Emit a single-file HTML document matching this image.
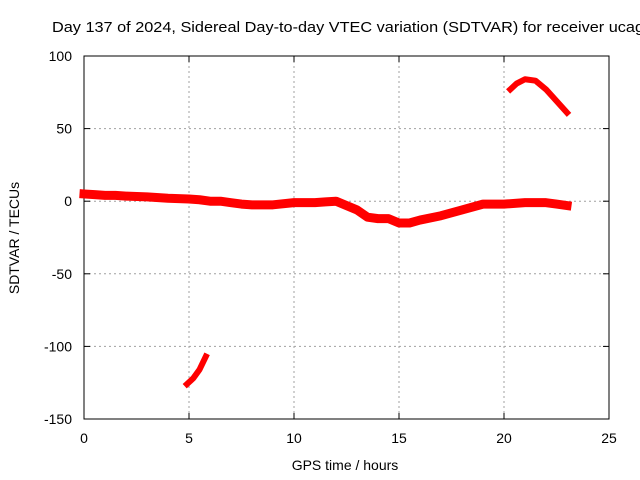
<!DOCTYPE html>
<html><head><meta charset="utf-8"><style>
body{margin:0;background:#fff}
svg{display:block;font-family:"Liberation Sans",sans-serif}
</style></head><body>
<svg id="chart" width="640" height="480" viewBox="0 0 640 480">
<rect width="640" height="480" fill="#fff"/>
<text x="52" y="32" font-size="15" textLength="592" lengthAdjust="spacingAndGlyphs" fill="#000">Day 137 of 2024, Sidereal Day-to-day VTEC variation (SDTVAR) for receiver ucag</text>
<g id="grid"></g>
<g id="axes"></g>
<g id="series"></g>
<text x="345" y="470" font-size="14" text-anchor="middle">GPS time / hours</text>
<text transform="translate(19,238) rotate(-90)" font-size="14" text-anchor="middle">SDTVAR / TECUs</text>
</svg>
<script>
const xTicks=[0,5,10,15,20,25];
const yTicks=[100,50,0,-50,-100,-150];
const mainHours=[0,0.5,1,1.5,2,3,4,5,5.5,6,6.5,7,7.5,8,9,10,11,11.5,12,12.5,13,13.5,14,14.5,15,15.5,16,17,18,19,20,21,22,22.5,23];
const mainValues=[5,4.5,4,4,3.5,3,2,1.5,1,0,0,-1,-2,-2.5,-2.5,-1,-1,-0.5,0,-3,-6,-11,-12,-12,-15,-15,-13,-10,-6,-2,-2,-1,-1,-2,-3];
const arcHours=[20.3,20.6,21,21.5,22,22.5,23];
const arcValues=[77,81,84,83,77,69,61];
const lowHours=[4.9,5.2,5.5,5.8];
const lowValues=[-126,-122,-116,-107];
const X0=84,X1=609,Y0=56,Y1=419;
const sx=h=>X0+(h-0)/(25-0)*(X1-X0);
const sy=v=>Y1-(v+150)/250*(Y1-Y0);
const NS='http://www.w3.org/2000/svg';
function mk(t,a,p){const e=document.createElementNS(NS,t);for(const k in a)e.setAttribute(k,a[k]);p.appendChild(e);return e;}
const grid=document.getElementById('grid'),axes=document.getElementById('axes'),series=document.getElementById('series');
xTicks.forEach(t=>{
 const x=sx(t);
 if(t>0&&t<25){const g=mk('line',{x1:x,y1:Y0,x2:x,y2:Y1,stroke:'#a0a0a0','stroke-dasharray':'2,3'},grid);
 
 }
 mk('line',{x1:x,y1:Y1,x2:x,y2:Y1-6,stroke:'#000'},axes);
 mk('line',{x1:x,y1:Y0,x2:x,y2:Y0+6,stroke:'#000'},axes);
 const l=mk('text',{x:x,y:Y1+24,'font-size':14,'text-anchor':'middle'},axes);l.textContent=t;
 
 
});
yTicks.forEach(t=>{
 const y=sy(t);
 if(t<100&&t>-150){const g=mk('line',{x1:X0,y1:y,x2:X1,y2:y,stroke:'#a0a0a0','stroke-dasharray':'2,3'},grid);
 
 }
 mk('line',{x1:X0,y1:y,x2:X0+6,y2:y,stroke:'#000'},axes);
 mk('line',{x1:X1,y1:y,x2:X1-6,y2:y,stroke:'#000'},axes);
 const l=mk('text',{x:X0-12,y:y+5,'font-size':14,'text-anchor':'end'},axes);l.textContent=t;
 
 
});
mk('rect',{x:X0,y:Y0,width:X1-X0,height:Y1-Y0,fill:'none',stroke:'#000'},axes);
function trace(hs,vs,name,w){
 const pts=hs.map((h,i)=>sx(h)+','+sy(vs[i])).join(' ');
 const p=mk('polyline',{points:pts,fill:'none',stroke:'#ff0000','stroke-width':w,'stroke-linejoin':'round','stroke-linecap':'square'},series);
 
 
}
trace(mainHours,mainValues,'main-trace',9);
trace(arcHours,arcValues,'high-arc-trace',6);
trace(lowHours,lowValues,'low-arc-trace',6);
</script>
</body></html>
